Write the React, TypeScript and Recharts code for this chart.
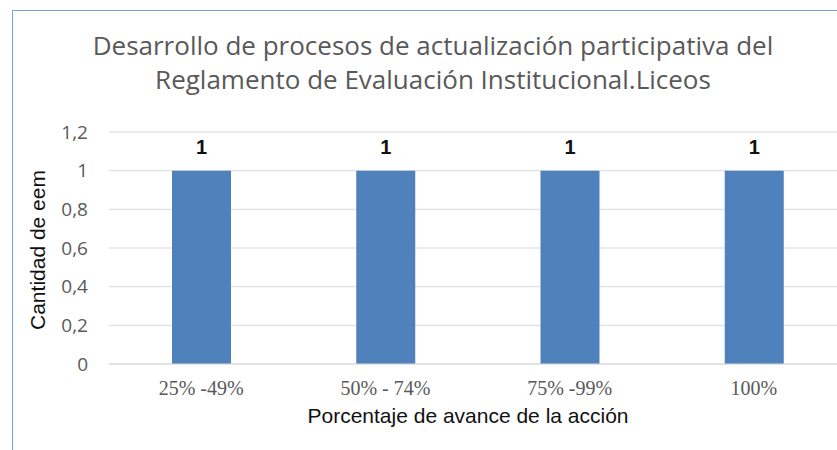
import React from 'react'
import { BarChart, Bar, XAxis, YAxis, CartesianGrid, LabelList } from 'recharts'

const CATEGORIES = ['25% -49%', '50% - 74%', '75% -99%', '100%']
const VALUES = [1, 1, 1, 1]
const Y_TICKS = [0, 0.2, 0.4, 0.6, 0.8, 1, 1.2]

const TITLE_LINES = [
  'Desarrollo de procesos de actualización participativa del',
  'Reglamento de Evaluación Institucional.Liceos',
]

const data = CATEGORIES.map((name, i) => ({ name, value: VALUES[i] }))

const NARROW = '"Liberation Sans Narrow", "Open Sans", sans-serif'
const ARIAL = '"Liberation Sans", Arial, sans-serif'

export default function App() {
  return (
    <div
      style={{
        position: 'fixed',
        left: 0,
        top: 0,
        width: 837,
        height: 450,
        overflow: 'hidden',
        background: '#fff',
      }}
    >
      {/* frame edge, cropped on the right and bottom */}
      <div
        style={{
          position: 'absolute',
          left: 12,
          top: 10,
          width: 900,
          height: 500,
          borderLeft: '1.5px solid #7aa0d8',
          borderTop: '1.5px solid #7aa0d8',
        }}
      />
      <div
        style={{
          position: 'absolute',
          left: 0,
          top: 28,
          width: 866,
          textAlign: 'center',
          fontFamily: NARROW,
          fontSize: 26,
          lineHeight: '34px',
          color: '#595959',
        }}
      >
        {TITLE_LINES.map((t) => (
          <div key={t}>{t}</div>
        ))}
      </div>
      <div
        style={{
          position: 'absolute',
          left: 38,
          top: 250,
          transform: 'translate(-50%, -50%) rotate(-90deg)',
          whiteSpace: 'nowrap',
          fontFamily: ARIAL,
          fontSize: 21,
          color: '#111',
        }}
      >
        Cantidad de eem
      </div>
      <div
        style={{
          position: 'absolute',
          left: 468,
          top: 416,
          transform: 'translate(-50%, -50%)',
          whiteSpace: 'nowrap',
          fontFamily: ARIAL,
          fontSize: 21,
          color: '#111',
        }}
      >
        Porcentaje de avance de la acción
      </div>
      <div style={{ position: 'absolute', left: 0, top: 0 }}>
        <BarChart
          width={870}
          height={450}
          data={data}
          margin={{ top: 132, right: 24, bottom: 26, left: 49 }}
        >
          <CartesianGrid vertical={false} stroke="#d9d9d9" />
          <XAxis
            dataKey="name"
            axisLine={{ stroke: '#d9d9d9' }}
            tickLine={false}
            tickMargin={11}
            height={60}
            tick={{ fill: '#595959', fontSize: 20, fontFamily: '"Liberation Serif", "Times New Roman", serif' }}
          />
          <YAxis
            domain={[0, 1.2]}
            ticks={Y_TICKS}
            width={60}
            axisLine={false}
            tickLine={false}
            tickMargin={15}
            tickFormatter={(v: number) => String(Math.round(v * 10) / 10).replace('.', ',')}
            tick={{ fill: '#595959', fontSize: 19, fontFamily: NARROW }}
          />
          <Bar dataKey="value" fill="#4f81bd" barSize={59} isAnimationActive={false}>
            <LabelList
              dataKey="value"
              position="top"
              offset={17}
              fill="#111"
              fontSize={20}
              fontWeight="bold"
              fontFamily={ARIAL}
            />
          </Bar>
        </BarChart>
      </div>
    </div>
  )
}
